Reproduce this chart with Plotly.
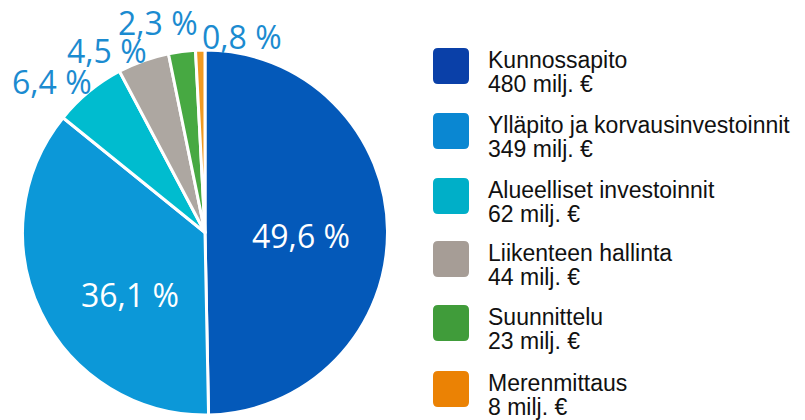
import plotly.graph_objects as go

W, H = 805, 420

categories = ["Kunnossapito", "Ylläpito ja korvausinvestoinnit", "Alueelliset investoinnit",
              "Liikenteen hallinta", "Suunnittelu", "Merenmittaus"]
values_meur = [480, 349, 62, 44, 23, 8]
value_labels = ["480 milj. €", "349 milj. €", "62 milj. €", "44 milj. €", "23 milj. €", "8 milj. €"]
percent_labels = ["49,6 %", "36,1 %", "6,4 %", "4,5 %", "2,3 %", "0,8 %"]
pie_colors = ["#0459B9", "#0C98D8", "#00BCCF", "#ADA7A1", "#47A942", "#F09A22"]
legend_colors = ["#0A40A8", "#0A87D2", "#00AFC8", "#A69D96", "#409C3A", "#EB8204"]

def px(x):
    return x / W

def py(y):
    return 1 - y / H

fig = go.Figure()

# Pie
pie_left, pie_right, pie_top, pie_bottom = 22, 388, 50, 415
fig.add_trace(go.Pie(
    labels=categories,
    values=values_meur,
    textinfo="none",
    marker=dict(colors=pie_colors, line=dict(color="white", width=3)),
    sort=False,
    direction="clockwise",
    rotation=0,
    showlegend=False,
    hoverinfo="label+value",
    domain=dict(x=[px(pie_left), px(pie_right)], y=[py(pie_bottom), py(pie_top)]),
))

# Percentage labels
label_pos = [(301, 235), (130, 294), (52, 82), (107, 50), (158, 22), (242, 36)]
for i, (cx, cy) in enumerate(label_pos):
    fig.add_annotation(
        x=px(cx), y=py(cy), xref="paper", yref="paper",
        text=percent_labels[i], showarrow=False,
        xanchor="center", yanchor="middle",
        font=dict(family="Open Sans", size=32, color="white" if i < 2 else "#1B8BD0"),
    )

# Custom legend
sw_left, sw_size, r = 433, 36, 5
sw_tops = [48, 113, 178, 241, 305, 371]
text_x = 486
shapes = []
for i, top in enumerate(sw_tops):
    x0, x1 = sw_left, sw_left + sw_size
    y0, y1 = top, top + sw_size
    path = (
        f"M {px(x0 + r)},{py(y0)} L {px(x1 - r)},{py(y0)} "
        f"Q {px(x1)},{py(y0)} {px(x1)},{py(y0 + r)} "
        f"L {px(x1)},{py(y1 - r)} Q {px(x1)},{py(y1)} {px(x1 - r)},{py(y1)} "
        f"L {px(x0 + r)},{py(y1)} Q {px(x0)},{py(y1)} {px(x0)},{py(y1 - r)} "
        f"L {px(x0)},{py(y0 + r)} Q {px(x0)},{py(y0)} {px(x0 + r)},{py(y0)} Z"
    )
    shapes.append(dict(type="path", path=path, xref="paper", yref="paper",
                       fillcolor=legend_colors[i], line=dict(width=0)))
    cyc = top + sw_size / 2
    fig.add_annotation(x=px(text_x), y=py(cyc - 6), xref="paper", yref="paper",
                       text=categories[i], showarrow=False, xanchor="left", yanchor="middle",
                       font=dict(family="Liberation Sans", size=23, color="#111111"))
    fig.add_annotation(x=px(text_x), y=py(cyc + 18), xref="paper", yref="paper",
                       text=value_labels[i], showarrow=False, xanchor="left", yanchor="middle",
                       font=dict(family="Liberation Sans", size=23, color="#111111"))

fig.update_layout(
    width=W, height=H,
    margin=dict(l=0, r=0, t=0, b=0),
    paper_bgcolor="white", plot_bgcolor="white",
    shapes=shapes,
)

fig.write_html("out.html", config={"displayModeBar": False},
               post_script="document.body.style.margin='0';")
